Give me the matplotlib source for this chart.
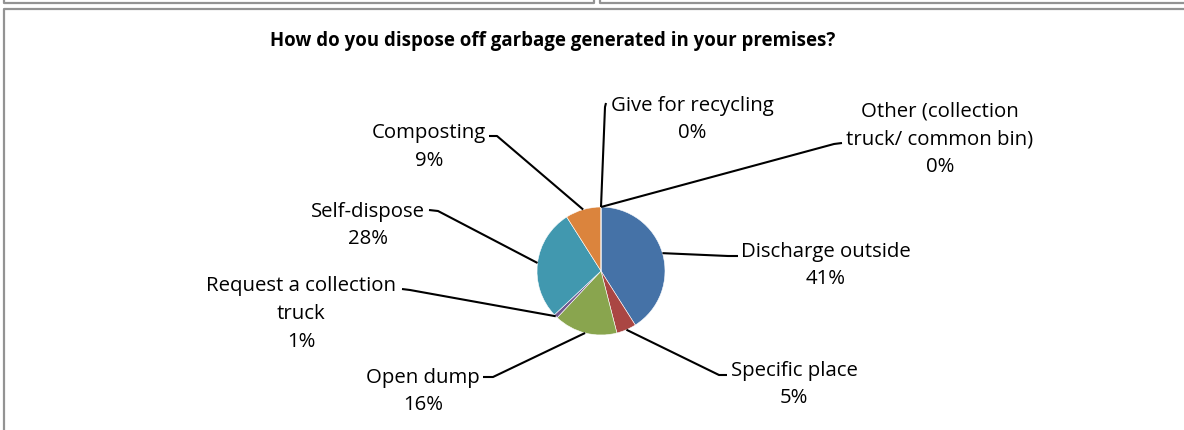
import numpy as np
import matplotlib
matplotlib.use("Agg")
import matplotlib.pyplot as plt

plt.rcParams['font.family'] = ['Open Sans', 'DejaVu Sans']

title = "How do you dispose off garbage generated in your premises?"
labels = ["Discharge outside", "Specific place", "Open dump",
          "Request a collection\ntruck", "Self-dispose", "Composting",
          "Give for recycling", "Other (collection\ntruck/ common bin)"]
values = [41, 5, 16, 1, 28, 9, 0, 0]
colors = ["#4572A7", "#AA4643", "#89A54E", "#71588F", "#4198AF", "#DB843D",
          "#93A9CF", "#D19392"]

W, H = 1184, 431
# layout in pixel coords (y from top)
center = (601, 272)
radius = 64
text_pos = [(826, 265.5), (794, 384.5), (423, 391.5), (301, 314),
            (368, 225.5), (429, 147), (692, 119.5), (940, 139)]
elbows = [(728, 257), (719, 376), (493, 378), (410, 291),
          (438, 212), (497, 137), (605, 108), (834, 145)]
ends = [(738, 257), (727, 376), (483, 378), (402, 290),
        (429, 211), (489, 137), (606, 104), (842, 144)]

fig = plt.figure(figsize=(W / 100, H / 100), dpi=100)
ax = fig.add_axes([0, 0, 1, 1])

wedges, _ = ax.pie(values, colors=colors, startangle=90, counterclock=False,
                   center=(center[0], H - center[1]), radius=radius,
                   wedgeprops=dict(edgecolor='white', linewidth=0.4),
                   frame=True)
ax.set_xlim(0, W)
ax.set_ylim(0, H)
ax.set_aspect('equal')
ax.axis('off')

total = sum(values)
cum = 0
for i, (lab, v) in enumerate(zip(labels, values)):
    mid = (cum + v / 2) / total
    cum += v
    ang = np.pi / 2 - 2 * np.pi * mid
    px = center[0] + radius * np.cos(ang)
    py = (H - center[1]) + radius * np.sin(ang)
    ex, ey = elbows[i]
    tx, ty = ends[i]
    ax.plot([px, ex, tx], [py, H - ey, H - ty], color='black', lw=1.5,
            solid_capstyle='butt', zorder=3)
    ax.text(text_pos[i][0], H - text_pos[i][1], f"{lab}\n{v}%",
            ha='center', va='center', fontsize=14.7, linespacing=1.53,
            color='black')

ax.text(553, H - 41, title, ha='center', va='center', fontsize=13.4,
        fontweight='bold')

# frame lines
gray = '#939393'
lw = 1.6
ax.plot([4, 4, 594, 594], [H, H - 4, H - 4, H], color=gray, lw=lw)
ax.plot([600, 600, W], [H, H - 4, H - 4], color=gray, lw=lw)
ax.plot([4, 4, W], [0, H - 10, H - 10], color=gray, lw=lw)

fig.savefig("out.png", dpi=100)
